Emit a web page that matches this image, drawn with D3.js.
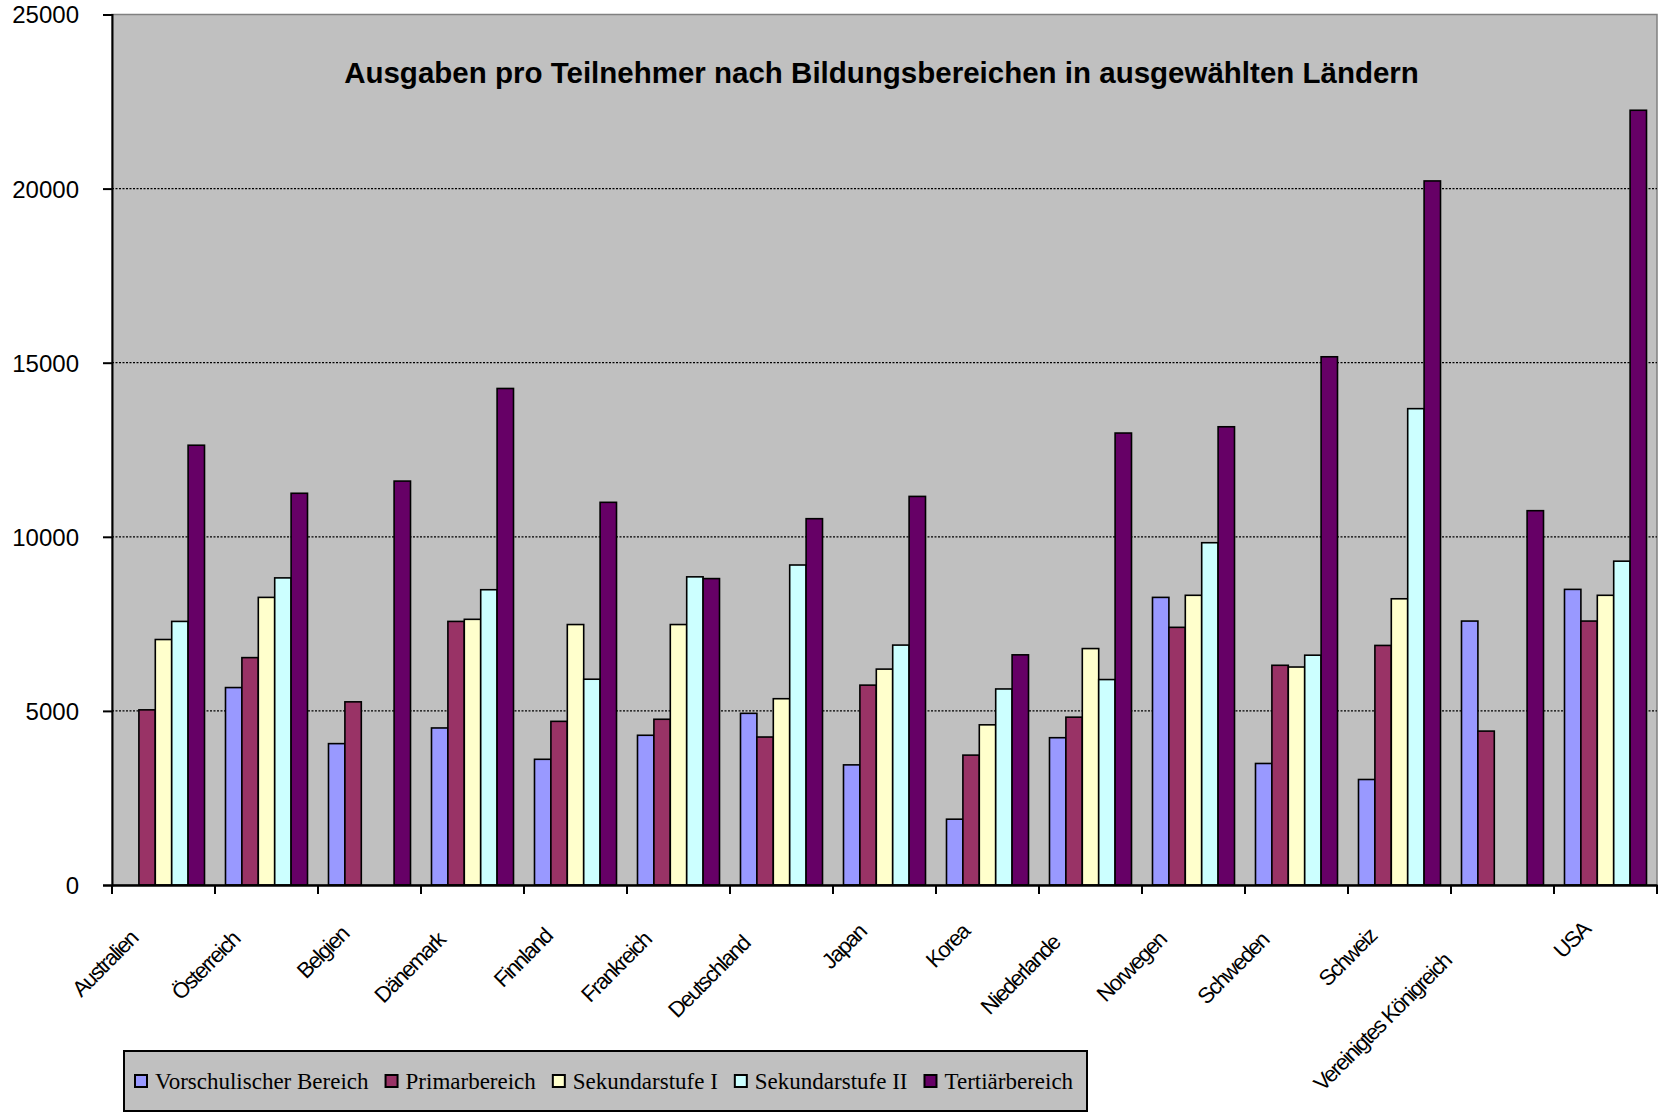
<!DOCTYPE html>
<html>
<head>
<meta charset="utf-8">
<script src="https://cdn.jsdelivr.net/npm/d3@7"></script>
<style>
  html, body { margin: 0; padding: 0; background: #ffffff; }
  svg { display: block; }
</style>
</head>
<body>
<svg id="chart" width="1660" height="1113"></svg>
<script>
// ---- Data ----
const categories = ["Australien", "Österreich", "Belgien", "Dänemark", "Finnland", "Frankreich",
  "Deutschland", "Japan", "Korea", "Niederlande", "Norwegen", "Schweden", "Schweiz",
  "Vereinigtes Königreich", "USA"];
const seriesNames = ["Vorschulischer Bereich", "Primarbereich", "Sekundarstufe I", "Sekundarstufe II", "Tertiärbereich"];
const vorschul   = [null, 5670, 4060, 4510, 3610, 4300, 4930, 3450, 1890, 4230, 8260, 3490, 3030, 7580, 8490];
const primar     = [5030, 6530, 5260, 7570, 4700, 4760, 4250, 5740, 3730, 4820, 7400, 6310, 6880, 4420, 7580];
const sekundarI  = [7050, 8260, null, 7630, 7480, 7480, 5350, 6200, 4600, 6790, 8320, 6260, 8220, null, 8320];
const sekundarII = [7570, 8820, null, 8480, 5910, 8850, 9190, 6890, 5630, 5900, 9830, 6600, 13680, null, 9300];
const tertiaer   = [12630, 11250, 11600, 14260, 10990, 8800, 10520, 11160, 6610, 12980, 13160, 15170, 20220, 10750, 22250];
const yTicks = [0, 5000, 10000, 15000, 20000, 25000];
const titleText = "Ausgaben pro Teilnehmer nach Bildungsbereichen in ausgewählten Ländern";

const seriesValues = [vorschul, primar, sekundarI, sekundarII, tertiaer];
const seriesColors = ["#9999FF", "#993366", "#FFFFCC", "#CCFFFF", "#660066"];

// ---- Layout ----
const plot = { left: 112, right: 1657, top: 14.5, bottom: 885 };
const svg = d3.select("#chart");

const x0 = d3.scaleBand().domain(categories).range([plot.left, plot.right]).padding(0);
const x1 = d3.scaleBand().domain(seriesNames).range([0, x0.bandwidth()]).paddingInner(0).paddingOuter(0.64);
const y = d3.scaleLinear().domain([0, 25000]).range([plot.bottom, plot.top]);

// plot background
svg.append("rect")
  .attr("x", plot.left).attr("y", plot.top)
  .attr("width", plot.right - plot.left).attr("height", plot.bottom - plot.top)
  .attr("fill", "#C0C0C0").attr("stroke", "#808080").attr("stroke-width", 1.5);

// gridlines
svg.append("g").selectAll("line")
  .data(yTicks.filter(d => d > 0 && d < 25000))
  .join("line")
  .attr("x1", plot.left).attr("x2", plot.right)
  .attr("y1", d => y(d)).attr("y2", d => y(d))
  .attr("stroke", "#000").attr("stroke-width", 1.3).attr("stroke-dasharray", "2,1.5");

// title
svg.append("text")
  .attr("x", (plot.left + plot.right) / 2 - 3).attr("y", 83)
  .attr("text-anchor", "middle")
  .attr("font-family", "Liberation Sans, Arial, sans-serif")
  .attr("font-weight", "bold").attr("font-size", 29.5)
  .attr("fill", "#000")
  .text(titleText);

// bars
const rows = categories.map((c, i) => ({ cat: c, vals: seriesValues.map((s, j) => ({ key: seriesNames[j], v: s[i], color: seriesColors[j] })) }));
const groups = svg.append("g").selectAll("g")
  .data(rows).join("g")
  .attr("transform", d => `translate(${x0(d.cat)},0)`);
groups.selectAll("rect")
  .data(d => d.vals.filter(v => v.v != null))
  .join("rect")
  .attr("x", d => x1(d.key))
  .attr("width", x1.bandwidth())
  .attr("y", d => y(d.v))
  .attr("height", d => y(0) - y(d.v))
  .attr("fill", d => d.color)
  .attr("stroke", "#000").attr("stroke-width", 1.6);

// y axis
const yAxis = d3.axisLeft(y).tickValues(yTicks).tickSize(9).tickFormat(d3.format("d"));
const yg = svg.append("g").attr("transform", `translate(${plot.left},0)`).call(yAxis);
yg.select(".domain").attr("stroke", "#000").attr("stroke-width", 2);
yg.selectAll(".tick line").attr("stroke", "#000").attr("stroke-width", 2);
yg.selectAll(".tick text")
  .attr("font-family", "Liberation Sans, Arial, sans-serif")
  .attr("font-size", 24).attr("fill", "#000").attr("x", -33).attr("dy", "0.35em");

// x axis
const xAxis = d3.axisBottom(x0).tickSize(0).tickFormat("");
const xg = svg.append("g").attr("transform", `translate(0,${plot.bottom})`).call(xAxis);
xg.select(".domain").attr("stroke", "#000").attr("stroke-width", 2.5);
xg.selectAll(".tick").remove();
// boundary ticks
const boundaries = categories.map(c => x0(c)).concat([plot.right]);
svg.append("g").selectAll("line").data(boundaries).join("line")
  .attr("x1", d => d).attr("x2", d => d)
  .attr("y1", plot.bottom).attr("y2", plot.bottom + 9)
  .attr("stroke", "#000").attr("stroke-width", 2);

// x labels (rotated)
const labels = svg.append("g").selectAll("text").data(categories).join("text")
  .attr("font-family", "Liberation Sans, Arial, sans-serif")
  .attr("font-size", 22).attr("letter-spacing", "-1.6px")
  .attr("text-anchor", "end").attr("fill", "#000")
  .text(d => d);
labels.each(function(d) {
  const L = this.getComputedTextLength();
  const cx = x0(d) + x0.bandwidth() / 2;
  const bx = cx - 4 - 0.25 * L;
  const by = 922 + 0.22 * L;
  d3.select(this).attr("transform", `translate(${bx},${by}) rotate(-45)`);
});

// legend
const legend = svg.append("g");
legend.append("rect")
  .attr("x", 124).attr("y", 1051).attr("width", 963).attr("height", 60)
  .attr("fill", "#C0C0C0").attr("stroke", "#000").attr("stroke-width", 2);
let lx = 135;
seriesNames.forEach((name, i) => {
  legend.append("rect")
    .attr("x", lx).attr("y", 1075).attr("width", 12).attr("height", 12)
    .attr("fill", seriesColors[i]).attr("stroke", "#000").attr("stroke-width", 2);
  const t = legend.append("text")
    .attr("x", lx + 20).attr("y", 1089)
    .attr("font-family", "Liberation Serif, Times New Roman, serif")
    .attr("font-size", 23).attr("fill", "#000")
    .text(name);
  lx = lx + 20 + t.node().getComputedTextLength() + 17;
});
</script>
</body>
</html>
